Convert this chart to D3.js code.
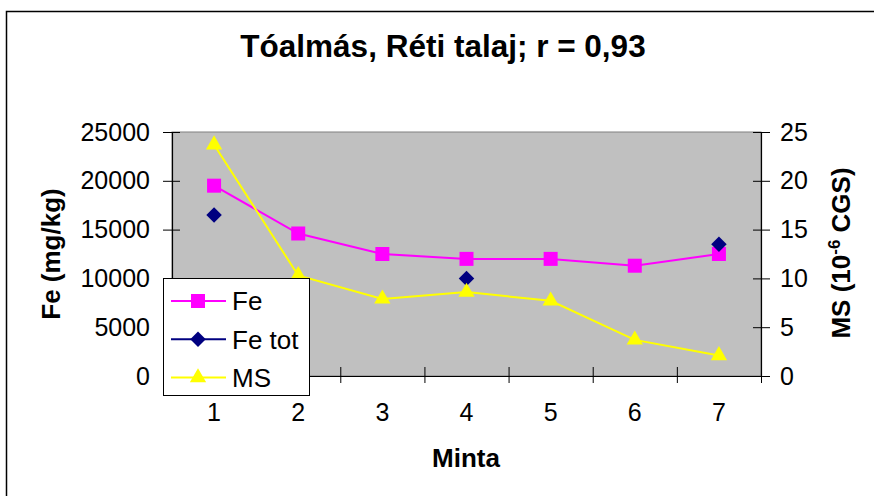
<!DOCTYPE html>
<html>
<head>
<meta charset="utf-8">
<script src="https://cdn.jsdelivr.net/npm/d3@7"></script>
<style>
  body { margin: 0; background: #fff; }
  text { font-family: "Liberation Sans", Arial, sans-serif; fill: #000; }
</style>
</head>
<body>
<div id="chart"></div>
<script>
// data
const categories = ['1', '2', '3', '4', '5', '6', '7'];
const feValues = [19500, 14600, 12500, 12000, 12000, 11300, 12500];
const feTotValues = [16500, null, null, 10000, null, null, 13500];
const msValues = [23.7, 10.3, 7.9, 8.6, 7.7, 3.7, 2.1];
const feTicks = [0, 5000, 10000, 15000, 20000, 25000];
const msTicks = [0, 5, 10, 15, 20, 25];

const width = 874;
const height = 496;
const plot = { left: 172, right: 761, top: 132, bottom: 376 };

const svg = d3.select('#chart')
              .append('svg')
              .attr('width', width)
              .attr('height', height);

// outer chart border (runs off the right and bottom edge)
svg.append('rect')
   .attr('x', 6.5)
   .attr('y', 11.5)
   .attr('width', 900)
   .attr('height', 520)
   .attr('fill', '#fff')
   .attr('stroke', '#000')
   .attr('stroke-width', 1.5);

const x = d3.scaleBand().domain(categories).range([plot.left, plot.right]);
const xEdges = d3.scaleLinear().domain([0, categories.length]).range([plot.left, plot.right]);
const yFe = d3.scaleLinear().domain([0, 25000]).range([plot.bottom, plot.top]);
const yMs = d3.scaleLinear().domain([0, 25]).range([plot.bottom, plot.top]);
const cx = (d, i) => x(categories[i]) + x.bandwidth() / 2;

// plot area
svg.append('rect')
   .attr('x', plot.left)
   .attr('y', plot.top)
   .attr('width', plot.right - plot.left)
   .attr('height', plot.bottom - plot.top)
   .attr('fill', '#c0c0c0')
   .attr('stroke', '#808080')
   .attr('stroke-width', 1);

// axes, Excel style crossing tick marks
const leftAxis = svg.append('g')
   .attr('transform', 'translate(' + plot.left + ',0)')
   .call(d3.axisLeft(yFe).tickValues(feTicks).tickFormat(d3.format('d'))
           .tickSize(9).tickPadding(13).tickSizeOuter(0));
leftAxis.selectAll('.tick line').attr('x1', 8);

const rightAxis = svg.append('g')
   .attr('transform', 'translate(' + plot.right + ',0)')
   .call(d3.axisRight(yMs).tickValues(msTicks).tickFormat(d3.format('d'))
           .tickSize(9).tickPadding(10).tickSizeOuter(0));
rightAxis.selectAll('.tick line').attr('x1', -8);

const bottomTicks = svg.append('g')
   .attr('transform', 'translate(0,' + plot.bottom + ')')
   .call(d3.axisBottom(xEdges).tickValues(d3.range(0, categories.length + 1))
           .tickSize(7).tickFormat('').tickSizeOuter(0));
bottomTicks.selectAll('.tick line').attr('y1', -9);

const bottomLabels = svg.append('g')
   .attr('transform', 'translate(0,' + plot.bottom + ')')
   .call(d3.axisBottom(x).tickSize(0).tickPadding(27));
bottomLabels.select('.domain').remove();

svg.selectAll('.domain').attr('stroke', '#000').attr('stroke-width', 1.2);
svg.selectAll('.tick line').attr('stroke', '#000');
svg.selectAll('.tick text')
   .style('font-size', '25px')
   .style('font-family', '"Liberation Sans", Arial, sans-serif')
   .attr('fill', '#000');

// series
const feLine = d3.line()
                 .x(cx)
                 .y((d) => yFe(d));
const msLine = d3.line()
                 .x(cx)
                 .y((d) => yMs(d));

svg.append('path')
   .attr('d', feLine(feValues))
   .attr('fill', 'none')
   .attr('stroke', '#ff00ff')
   .attr('stroke-width', 2);

svg.append('g')
   .selectAll('rect')
   .data(feValues)
   .enter()
   .append('rect')
   .attr('x', (d, i) => cx(d, i) - 7)
   .attr('y', (d) => yFe(d) - 7)
   .attr('width', 14)
   .attr('height', 14)
   .attr('fill', '#ff00ff');

const diamond = d3.symbol().type(d3.symbolSquare).size(120);
svg.append('g')
   .selectAll('path')
   .data(feTotValues.map((v, i) => ({ v: v, i: i })).filter((d) => d.v !== null))
   .enter()
   .append('path')
   .attr('d', diamond)
   .attr('transform', (d) => 'translate(' + cx(d.v, d.i) + ',' + yFe(d.v) + ') rotate(45)')
   .attr('fill', '#000080');

svg.append('path')
   .attr('d', msLine(msValues))
   .attr('fill', 'none')
   .attr('stroke', '#ffff00')
   .attr('stroke-width', 2);

const triangle = d3.symbol().type(d3.symbolTriangle).size(115);
svg.append('g')
   .selectAll('path')
   .data(msValues)
   .enter()
   .append('path')
   .attr('d', triangle)
   .attr('transform', (d, i) => 'translate(' + cx(d, i) + ',' + yMs(d) + ')')
   .attr('fill', '#ffff00');

// titles
svg.append('text')
   .attr('x', 443)
   .attr('y', 57)
   .attr('text-anchor', 'middle')
   .style('font-size', '31.5px')
   .style('font-weight', 'bold')
   .text('Tóalmás, Réti talaj; r = 0,93');

svg.append('text')
   .attr('x', 466)
   .attr('y', 467)
   .attr('text-anchor', 'middle')
   .style('font-size', '26px')
   .style('font-weight', 'bold')
   .text('Minta');

svg.append('text')
   .attr('transform', 'translate(60,254) rotate(-90)')
   .attr('text-anchor', 'middle')
   .style('font-size', '26px')
   .style('font-weight', 'bold')
   .text('Fe (mg/kg)');

const msTitle = svg.append('text')
   .attr('transform', 'translate(850,253) rotate(-90)')
   .attr('text-anchor', 'middle')
   .style('font-size', '26px')
   .style('font-weight', 'bold');
msTitle.append('tspan').text('MS (10');
msTitle.append('tspan').attr('dy', -10).style('font-size', '17px').text('-6');
msTitle.append('tspan').attr('dy', 10).text(' CGS)');

// legend
const legendItems = [
  { name: 'Fe', color: '#ff00ff', marker: 'square' },
  { name: 'Fe tot', color: '#000080', marker: 'diamond' },
  { name: 'MS', color: '#ffff00', marker: 'triangle' }
];

const legend = svg.append('g').attr('transform', 'translate(163,278)');
legend.append('rect')
      .attr('x', 0.5)
      .attr('y', 0.5)
      .attr('width', 146)
      .attr('height', 117)
      .attr('fill', '#fff')
      .attr('stroke', '#000')
      .attr('stroke-width', 1);

const legendRow = legend.selectAll('.legend-row')
      .data(legendItems)
      .enter()
      .append('g')
      .attr('class', 'legend-row')
      .attr('transform', (d, i) => 'translate(0,' + (23 + i * 38.3) + ')');

legendRow.append('line')
      .attr('x1', 8)
      .attr('x2', 63)
      .attr('stroke', (d) => d.color)
      .attr('stroke-width', 2);

legendRow.append('path')
      .attr('d', (d) => {
        if (d.marker === 'square') return d3.symbol().type(d3.symbolSquare).size(196)();
        if (d.marker === 'diamond') return diamond();
        return triangle();
      })
      .attr('transform', (d) => 'translate(35,0)' + (d.marker === 'diamond' ? ' rotate(45)' : ''))
      .attr('fill', (d) => d.color);

legendRow.append('text')
      .attr('x', 69)
      .attr('dy', '0.36em')
      .style('font-size', '26px')
      .text((d) => d.name);
</script>
</body>
</html>
